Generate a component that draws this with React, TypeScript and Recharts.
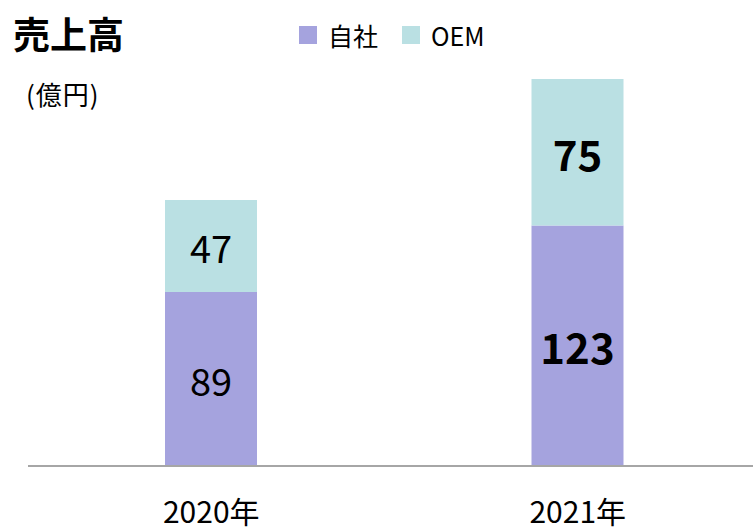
import React from 'react';
import { BarChart, Bar, XAxis, YAxis, LabelList } from 'recharts';

const years = ['2020年', '2021年'];
const ownBrand = [89, 123];
const oem = [47, 75];
const boldYears = ['2021年'];
const seriesNames = ['自社', 'OEM'];

const data = years.map((year, i) => ({ year, own: ownBrand[i], oem: oem[i] }));

const FONT = '"Noto Sans CJK JP", "Noto Sans", sans-serif';
const OWN_COLOR = '#a5a3de';
const OEM_COLOR = '#bae0e3';
const seriesColors = [OWN_COLOR, OEM_COLOR];

const makeLabel = () => (props: any) => {
  const { x, y, width, height, value, index } = props;
  const bold = boldYears.includes(years[index]);
  return (
    <text
      x={Number(x) + Number(width) / 2}
      y={Number(y) + Number(height) / 2}
      textAnchor="middle"
      dominantBaseline="central"
      fontFamily={FONT}
      fontSize={bold ? 42 : 38}
      fontWeight={bold ? 700 : 400}
      fill="#000"
    >
      {value}
    </text>
  );
};

export default function App() {
  return (
    <div style={{ position: 'absolute', left: 0, top: 0, width: 753, height: 527, overflow: 'hidden', background: '#fff' }}>
      <div style={{ position: 'absolute', left: 13, top: 9, fontFamily: FONT, fontSize: 37, fontWeight: 700, lineHeight: '48px', color: '#000' }}>
        売上高
      </div>
      <div style={{ position: 'absolute', left: 26, top: 77, fontFamily: FONT, fontSize: 26, lineHeight: '34px', letterSpacing: 1, color: '#000' }}>
        (億円)
      </div>
      <div style={{ position: 'absolute', left: 299, top: 18, display: 'flex', alignItems: 'center', fontFamily: FONT, fontSize: 25, lineHeight: '34px', color: '#000' }}>
        {seriesNames.map((name, i) => (
          <div key={name} style={{ display: 'flex', alignItems: 'center', marginRight: 24 }}>
            <span style={{ width: 18, height: 18, background: seriesColors[i], marginRight: 11, display: 'inline-block' }} />
            <span>{name}</span>
          </div>
        ))}
      </div>
      <div style={{ position: 'absolute', left: 0, top: 0 }}>
        <BarChart width={761} height={527} data={data} margin={{ top: 75, right: 0, bottom: 11, left: 28 }}>
          <XAxis
            dataKey="year"
            axisLine={{ stroke: '#a6a6a6', strokeWidth: 2 }}
            tickLine={false}
            tickMargin={30}
            height={50}
            tick={{ fontFamily: FONT, fontSize: 30, fill: '#000' }}
          />
          <YAxis hide domain={[0, 200]} />
          <Bar dataKey="own" name="自社" stackId="s" fill={OWN_COLOR} barSize={92} isAnimationActive={false}>
            <LabelList dataKey="own" content={makeLabel()} />
          </Bar>
          <Bar dataKey="oem" name="OEM" stackId="s" fill={OEM_COLOR} barSize={92} isAnimationActive={false}>
            <LabelList dataKey="oem" content={makeLabel()} />
          </Bar>
        </BarChart>
      </div>
    </div>
  );
}
